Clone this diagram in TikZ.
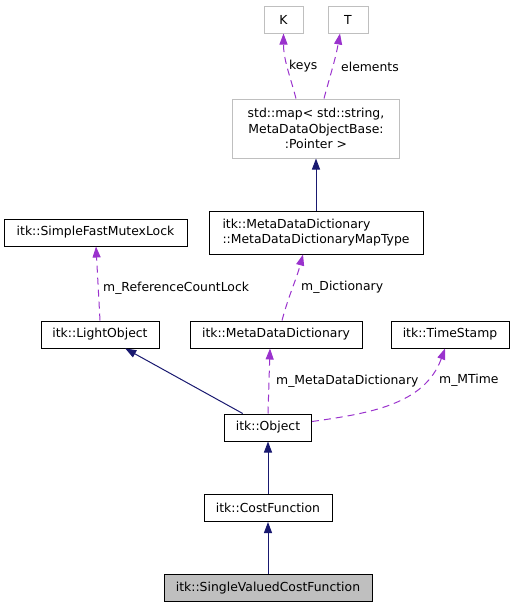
\documentclass[tikz,border=0pt]{standalone}
\usepackage{fontspec}
\usepackage{tikz}
\usetikzlibrary{arrows.meta,calc}
\newfontfamily\dvsans{DejaVu Sans}
\definecolor{edgenavy}{RGB}{25,25,112}
\definecolor{edgepurple}{RGB}{154,50,205}
\definecolor{tmplgray}{RGB}{191,191,191}
\definecolor{focusgray}{RGB}{191,191,191}
\tikzset{
  cls/.style={draw=black,line width=1pt,fill=white,inner sep=2pt,align=center,
              minimum height=27pt,font=\dvsans\fontsize{12.4}{15.6}\selectfont},
  tmpl/.style={cls,draw=tmplgray},
  focus/.style={cls,fill=focusgray},
  inherit/.style={edgenavy,line width=1pt,-{Triangle[length=11pt,width=8pt]}},
  member/.style={edgepurple,line width=1pt,dash pattern=on 7pt off 5pt,
                 -{Triangle[length=11pt,width=8pt]}},
  lab/.style={anchor=west,inner sep=0pt,font=\dvsans\fontsize{12.4}{15.6}\selectfont},
}
\begin{document}
\begin{tikzpicture}[x=1pt,y=-1pt]
  \path[use as bounding box] (0,0) rectangle (515,608);

  % template arguments and the map
  \node[tmpl,minimum width=39pt] (k) at (283.5,19.5) {K};
  \node[tmpl,minimum width=40pt] (t) at (348,19.5) {T};
  \node[tmpl,minimum width=167pt,minimum height=59pt] (map) at (316,128.5)
    {std::map< std::string,\\ MetaDataObjectBase:\\:Pointer >};

  % classes
  \node[cls,minimum width=183pt] (mutex) at (95.5,232.5) {itk::SimpleFastMutexLock};
  \node[cls,minimum width=214pt,minimum height=43pt,align=left] (maptype) at (316,232.5)
    {itk::MetaDataDictionary\\::MetaDataDictionaryMapType};
  \node[cls,minimum width=118pt] (light) at (100,334.5) {itk::LightObject};
  \node[cls,minimum width=172pt] (dict) at (276,334.5) {itk::MetaDataDictionary};
  \node[cls,minimum width=118pt] (stamp) at (450,334.5) {itk::TimeStamp};
  \node[cls,minimum width=87pt] (object) at (268,427.5) {itk::Object};
  \node[cls,minimum width=128pt] (cost) at (268,508) {itk::CostFunction};
  \node[focus,minimum width=208pt] (single) at (268,588) {itk::SingleValuedCostFunction};

  % inheritance
  \draw[inherit] (maptype.north) -- (map.south);
  \draw[inherit] (object) -- (light);
  \draw[inherit] (cost) -- (object);
  \draw[inherit] (single) -- (cost);

  % members
  \draw[member] ([xshift=-20pt]map.north) to[out=105,in=-90] (k.south);
  \draw[member] ([xshift=8pt]map.north) to[out=75,in=-100] ([xshift=-8pt]t.south);
  \draw[member] ([xshift=6pt]dict.north) to[out=75,in=-105] ([xshift=-13pt]maptype.south);
  \draw[member] (light.north) -- ([xshift=0.5pt]mutex.south);
  \draw[member] (object.north) -- ([xshift=-6pt]dict.south);
  \draw[member] ([yshift=6pt]object.east) to[out=8,in=-110] ([xshift=-5pt]stamp.south);

  % member labels
  \node[lab] (lkeys) at (289,66) {keys};
  \node[lab] (lelem) at (341,67) {elements};
  \node[lab] (ldict) at (301,287) {m\_Dictionary};
  \node[lab] (llock) at (103,288) {m\_ReferenceCountLock};
  \node[lab] (lmeta) at (276,381) {m\_MetaDataDictionary};
  \node[lab] (ltime) at (439,380) {m\_MTime};
\end{tikzpicture}
\end{document}
